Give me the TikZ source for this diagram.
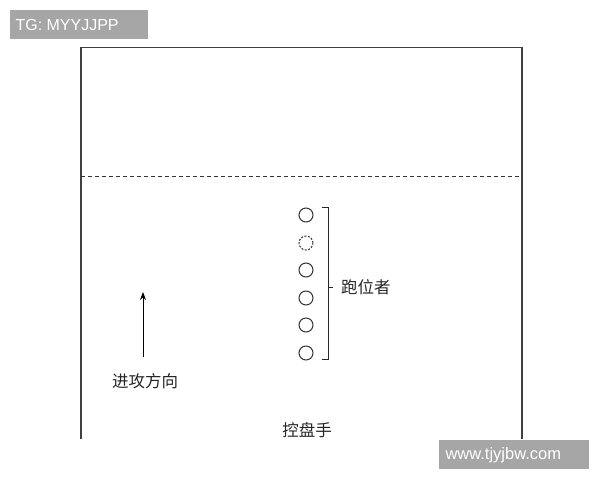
\documentclass[tikz,border=0pt]{standalone}
\usepackage{fontspec}
\setmainfont{Liberation Sans}
\newfontfamily\cjk{Noto Sans CJK SC}
\usetikzlibrary{arrows.meta}
\tikzset{
  court/.style={draw=black!75, line width=1.1pt},
  player/.style={circle, draw=black!80, line width=1pt, minimum size=14pt, inner sep=0pt},
  ghost/.style={player, dashed, dash pattern=on 2pt off 1.5pt},
  lbl/.style={font=\cjk\fontsize{16.5}{16.5}\selectfont, text=black!85, inner sep=1pt},
  wmbox/.style={fill=black!35, text=white, font=\fontsize{16}{16}\selectfont, inner sep=0pt, anchor=north west},
}
\begin{document}
\begin{tikzpicture}[x=1pt,y=-1pt]
\useasboundingbox (0,0) rectangle (600,480);
\fill[white] (0,0) rectangle (600,480);
% court
\draw[court] (81,439) -- (81,47.5) -- (522,47.5) -- (522,439);
\draw[black!80, line width=1pt, dash pattern=on 4pt off 3pt] (81,176) -- (522,176);
% players
\node[player] (p1) at (306,215) {};
\node[ghost]  (p2) at (306,243) {};
\node[player] (p3) at (306,270) {};
\node[player] (p4) at (306,298) {};
\node[player] (p5) at (306,325) {};
\node[player] (p6) at (306,353) {};
% bracket
\coordinate (bt) at (328,207);
\coordinate (bb) at (328,359);
\coordinate (bm) at (328,287);
\draw[black!85, line width=1pt] ([xshift=-6pt]bt) -- (bt) -- (bb) -- ([xshift=-6pt]bb);
\draw[black!85, line width=1pt] (bm) -- ([xshift=5pt]bm);
\node[lbl, anchor=west] (run) at (340,287) {跑位者};
% arrow
\node[lbl] (dir) at (145,381) {进攻方向};
\coordinate (atip) at (143,292);
\draw[black, line width=1pt, -{Stealth[length=8pt,width=6pt]}] (143,357) -- (atip);
% ball handler
\node[lbl] (pg) at (307,430) {控盘手};
% watermarks
\node[wmbox, minimum width=138pt, minimum height=29pt] (tg) at (10,10) {};
\node[text=white, font=\fontsize{16}{16}\selectfont, anchor=west] (tgt) at (12,25) {TG: MYYJJPP};
\node[wmbox, minimum width=150pt, minimum height=29pt] (www) at (439,440) {};
\node[text=white, font=\fontsize{16.5}{16.5}\selectfont, anchor=west] (wwwt) at (442,455) {www.tjyjbw.com};
\end{tikzpicture}
\end{document}
